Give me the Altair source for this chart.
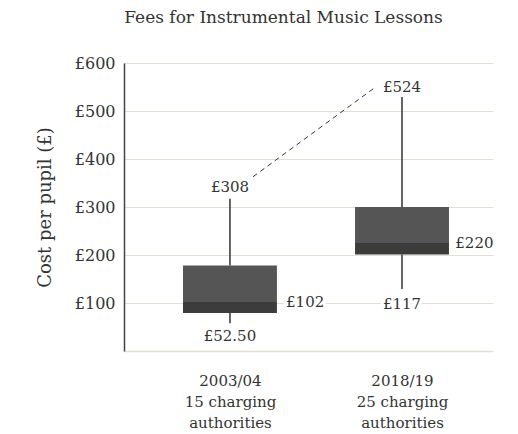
import json
import altair as alt
import pandas as pd

# ---- data ----
periods = ["2003/04", "2018/19"]
authorities = ["15 charging", "25 charging"]
positions = [0, 1]
whisker_low = [58, 129]
q1 = [79, 201]
median = [102, 225]
q3 = [178, 300]
whisker_high = [317, 529]

label_text = ["£308", "£524", "£102", "£220", "£52.50", "£117"]
label_x = [0, 1, 0.326, 1.31, 0, 1]
label_y = [342, 549, 102, 225, 30.5, 98.5]
label_align = ["center", "center", "left", "left", "center", "center"]

connector_x = [0.134, 0.843]
connector_y = [363, 549]

y_ticks = [100, 200, 300, 400, 500, 600]

HALF = 0.273
FONT = "DejaVu Serif"
TEXT = "#333333"
GRID = "#e3e0d3"

boxes = pd.DataFrame({
    "pos": positions,
    "x1": [p - HALF for p in positions],
    "x2": [p + HALF for p in positions],
    "wl": whisker_low, "q1": q1, "med": median, "q3": q3, "wh": whisker_high,
})
labels = pd.DataFrame({"x": label_x, "y": label_y, "t": label_text, "a": label_align})
conn = pd.DataFrame({"x": connector_x, "y": connector_y})

xlab = {p: [per, au, "authorities"] for p, per, au in zip(positions, periods, authorities)}
label_expr = "datum.value == 0 ? " + json.dumps(xlab[0]) + " : " + json.dumps(xlab[1])

xscale = alt.Scale(domain=[-0.616, 1.529], nice=False, zero=False)
yscale = alt.Scale(domain=[0, 600], nice=False)

xaxis = alt.Axis(values=positions, labelExpr=label_expr, grid=False, ticks=False,
                 domainColor=GRID, domainWidth=1.5, labelFont=FONT, labelFontSize=15,
                 labelColor=TEXT, labelPadding=22, labelLineHeight=21,
                 labelBaseline="top", title=None)
yaxis = alt.Axis(values=y_ticks, labelExpr="'£' + datum.value", grid=True,
                 gridColor=GRID, gridWidth=1, ticks=False, domainColor="#444444",
                 domainWidth=1.5, labelFont=FONT, labelFontSize=16, labelColor=TEXT,
                 labelPadding=9, title="Cost per pupil (£)", titleFont=FONT,
                 titleFontSize=18, titleFontWeight="normal", titleColor=TEXT,
                 titlePadding=20)

base = alt.Chart(boxes)

whisk_lo = base.mark_rule(color="#333333", strokeWidth=1.5).encode(
    x=alt.X("pos:Q", scale=xscale, axis=xaxis),
    y=alt.Y("wl:Q", scale=yscale, axis=yaxis), y2="q1:Q")
whisk_hi = base.mark_rule(color="#333333", strokeWidth=1.5).encode(
    x="pos:Q", y="q3:Q", y2="wh:Q")
box_lo = base.mark_rect(color="#3c3c3c").encode(
    x="x1:Q", x2="x2:Q", y="q1:Q", y2="med:Q")
box_hi = base.mark_rect(color="#555555").encode(
    x="x1:Q", x2="x2:Q", y="med:Q", y2="q3:Q")

connector = alt.Chart(conn).mark_line(color="#333333", strokeDash=[5, 4], strokeWidth=1).encode(
    x="x:Q", y="y:Q")

def text_layer(align, halo):
    kw = dict(font=FONT, fontSize=15, align=align, baseline="middle")
    if halo:
        kw.update(stroke="white", strokeWidth=6, color="white")
    else:
        kw.update(color=TEXT)
    return alt.Chart(labels).transform_filter(
        alt.datum.a == align).mark_text(**kw).encode(x="x:Q", y="y:Q", text="t:N")

texts = [text_layer(a, h) for h in (True, False) for a in ("center", "left")]

chart = alt.layer(whisk_lo, whisk_hi, box_lo, box_hi, connector, *texts).properties(
    width=369, height=288,
    autosize=alt.AutoSizeParams(type="none"),
    padding={"left": 116, "top": 55, "right": 17, "bottom": 84},
    title=alt.Title("Fees for Instrumental Music Lessons", font=FONT, fontSize=17,
                    fontWeight="normal", color=TEXT, anchor="middle", dx=-25, offset=28),
).configure_view(stroke=None)

chart.save("out.html", embed_options={"renderer": "svg", "actions": False})
